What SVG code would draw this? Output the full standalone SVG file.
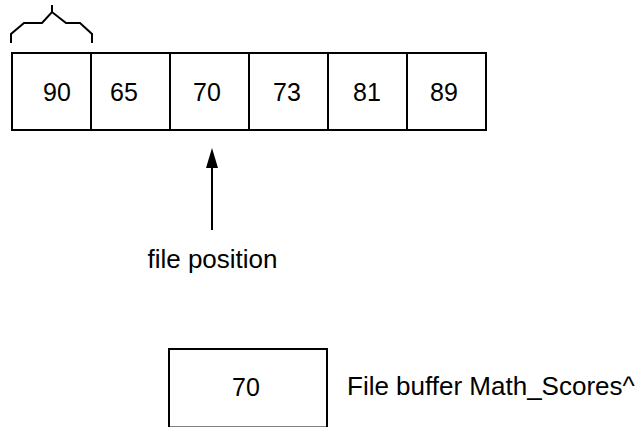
<svg xmlns="http://www.w3.org/2000/svg" width="636" height="427" viewBox="0 0 636 427">
<style>
.box{fill:#fff;stroke:#000;stroke-width:2}
.t{font-family:"Liberation Sans",Arial,sans-serif;fill:#000}
.num{font-size:25px}
.lbl{font-size:26px}
.ln{fill:none;stroke:#000;stroke-width:2}
</style>
<defs>
<marker id="ah" viewBox="0 0 20 12" refX="2" refY="6" markerWidth="20" markerHeight="12" markerUnits="userSpaceOnUse" orient="auto">
<path d="M0,0 L20,6 L0,12 Z" fill="#000"/>
</marker>
</defs>
<rect width="636" height="427" fill="#fff"/>
<g id="cells">
<g id="c90"><rect class="box" x="12" y="53" width="79" height="77"/><text class="t num" x="43" y="101">90</text></g>
<g id="c65"><rect class="box" x="91" y="53" width="79" height="77"/><text class="t num" x="110" y="101">65</text></g>
<g id="c70"><rect class="box" x="170" y="53" width="79" height="77"/><text class="t num" x="193" y="101">70</text></g>
<g id="c73"><rect class="box" x="249" y="53" width="79" height="77"/><text class="t num" x="273" y="101">73</text></g>
<g id="c81"><rect class="box" x="328" y="53" width="79" height="77"/><text class="t num" x="353" y="101">81</text></g>
<g id="c89"><rect class="box" x="407" y="53" width="79" height="77"/><text class="t num" x="430" y="101">89</text></g>
</g>
<g id="brace">
<polyline class="ln" points="11,43 11,34 24,23 42,23 52,12 66,23 80,23 92,34 92,43"/>
<line class="ln" x1="52" y1="12" x2="52" y2="5"/>
</g>
<g id="connectors">
<line class="ln" x1="212" y1="230" x2="212" y2="166" marker-end="url(#ah)"/>
</g>
<g id="filepos"><text class="t lbl" x="212.5" y="268" text-anchor="middle">file position</text></g>
<g id="buffer">
<rect class="box" x="169" y="349" width="158" height="78.5"/>
<text class="t num" x="232" y="396">70</text>
</g>
<g id="bufferlabel"><text class="t lbl" x="347" y="395">File buffer Math_Scores^</text></g>
</svg>
